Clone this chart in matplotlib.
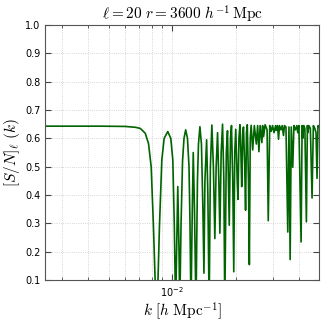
import numpy as np
import matplotlib
matplotlib.use('Agg')
import matplotlib.pyplot as plt

plt.rcParams['mathtext.fontset'] = 'cm'

# signal-to-noise curve, k in units of 1e-3 h/Mpc
k_e3 = np.array([
    2.50, 4.58, 6.00, 6.69, 7.07, 7.46, 7.73, 7.96, 8.16, 8.31, 8.50, 8.71,
    8.94, 9.17, 9.54, 9.86, 10.08, 10.25, 10.39, 10.50, 10.64, 10.79, 10.87,
    11.03, 11.21, 11.39, 11.60, 11.83, 12.03, 12.16, 12.29, 12.47, 12.60,
    12.77, 12.98, 13.19, 13.34, 13.55, 13.78, 14.00, 14.16, 14.31, 14.58,
    14.78, 14.99, 15.19, 15.44, 15.70, 15.95, 16.18, 16.43, 16.66, 16.85,
    17.09, 17.35, 17.60, 17.78, 18.08, 18.31, 18.67, 18.92, 19.13, 19.40,
    19.61, 19.82, 20.04, 20.37, 20.55, 20.75, 20.98, 21.20, 21.39, 21.62,
    21.81, 22.10, 22.31, 22.53, 22.73, 23.03, 23.25, 23.48, 23.71, 24.11,
    24.55, 25.09, 25.45, 25.81, 26.15, 26.66, 26.87, 27.16, 27.61, 28.22,
    28.58, 29.05, 29.53, 29.95, 30.45, 30.95, 31.18, 31.62, 31.97, 32.32,
    32.85, 33.28, 33.75, 34.12, 34.68, 35.37, 35.83, 36.30, 36.74, 37.34,
    37.83, 38.45, 39.09, 39.43, 39.94, 40.91, 41.36, 41.63, 42.09, 42.63,
    43.34, 43.81, 44.05, 44.53, 45.26, 46.11, 46.76, 47.53, 48.15, 48.68,
    49.20, 49.90,
])
sn = np.array([
    0.643, 0.643, 0.642, 0.639, 0.635, 0.618, 0.582, 0.500, 0.288, 0.100, 0.0, 0.288,
    0.524, 0.600, 0.624, 0.600, 0.524, 0.288, 0.0, 0.200, 0.430, 0.200, 0.0,
    0.300, 0.520, 0.600, 0.630, 0.600, 0.500, 0.300, 0.0, 0.350, 0.550,
    0.350, 0.0, 0.450, 0.580, 0.641, 0.580, 0.350, 0.125, 0.450, 0.595,
    0.400, 0.0, 0.500, 0.647, 0.500, 0.247, 0.500, 0.620, 0.450, 0.266,
    0.550, 0.650, 0.450, 0.0, 0.550, 0.627, 0.294, 0.600, 0.645, 0.450,
    0.130, 0.550, 0.632, 0.450, 0.385, 0.600, 0.648, 0.550, 0.430, 0.620,
    0.640, 0.500, 0.347, 0.620, 0.648, 0.450, 0.155, 0.600, 0.646, 0.559,
    0.645, 0.580, 0.645, 0.553, 0.645, 0.585, 0.645, 0.606, 0.648, 0.630,
    0.310, 0.645, 0.625, 0.645, 0.620, 0.645, 0.628, 0.645, 0.597, 0.645,
    0.630, 0.645, 0.610, 0.645, 0.640, 0.270, 0.640, 0.173, 0.640, 0.498,
    0.645, 0.630, 0.645, 0.620, 0.645, 0.235, 0.645, 0.600, 0.645, 0.635,
    0.306, 0.645, 0.620, 0.645, 0.635, 0.390, 0.645, 0.635, 0.620, 0.459,
    0.645, 0.640,
])
k = k_e3 * 1e-3

ell = 20
r = 3600

fig = plt.figure(figsize=(3.27, 3.27), dpi=100)
ax = fig.add_axes([0.138, 0.143, 0.839, 0.781])

ax.plot(k, sn, color='darkgreen', lw=1.2)

ax.set_xscale('log')
ax.set_xlim(2.5e-3, 5e-2)
ax.set_ylim(0.1, 1.0)
ax.set_yticks(np.arange(0.1, 1.01, 0.1))

ax.grid(True, which='major', ls=':', color='#c8c8c8', lw=0.6)
ax.grid(True, which='minor', axis='x', ls=':', color='#c8c8c8', lw=0.6)
ax.tick_params(which='both', direction='in', top=True, right=True,
               labelsize=7, color='#444444')
ax.tick_params(which='major', length=4)
ax.tick_params(which='minor', length=2)
for s in ax.spines.values():
    s.set_color('#555555')

ax.set_title(r'$\ell=%d\ r=%d\ h^{-1}\,\mathrm{Mpc}$' % (ell, r), fontsize=11, pad=3)
ax.set_xlabel(r'$k\ [h\ \mathrm{Mpc}^{-1}]$', fontsize=11, labelpad=1)
ax.set_ylabel(r'$[S/N]_\ell\ (k)$', fontsize=11, labelpad=2)

fig.savefig('out.png', dpi=100)
